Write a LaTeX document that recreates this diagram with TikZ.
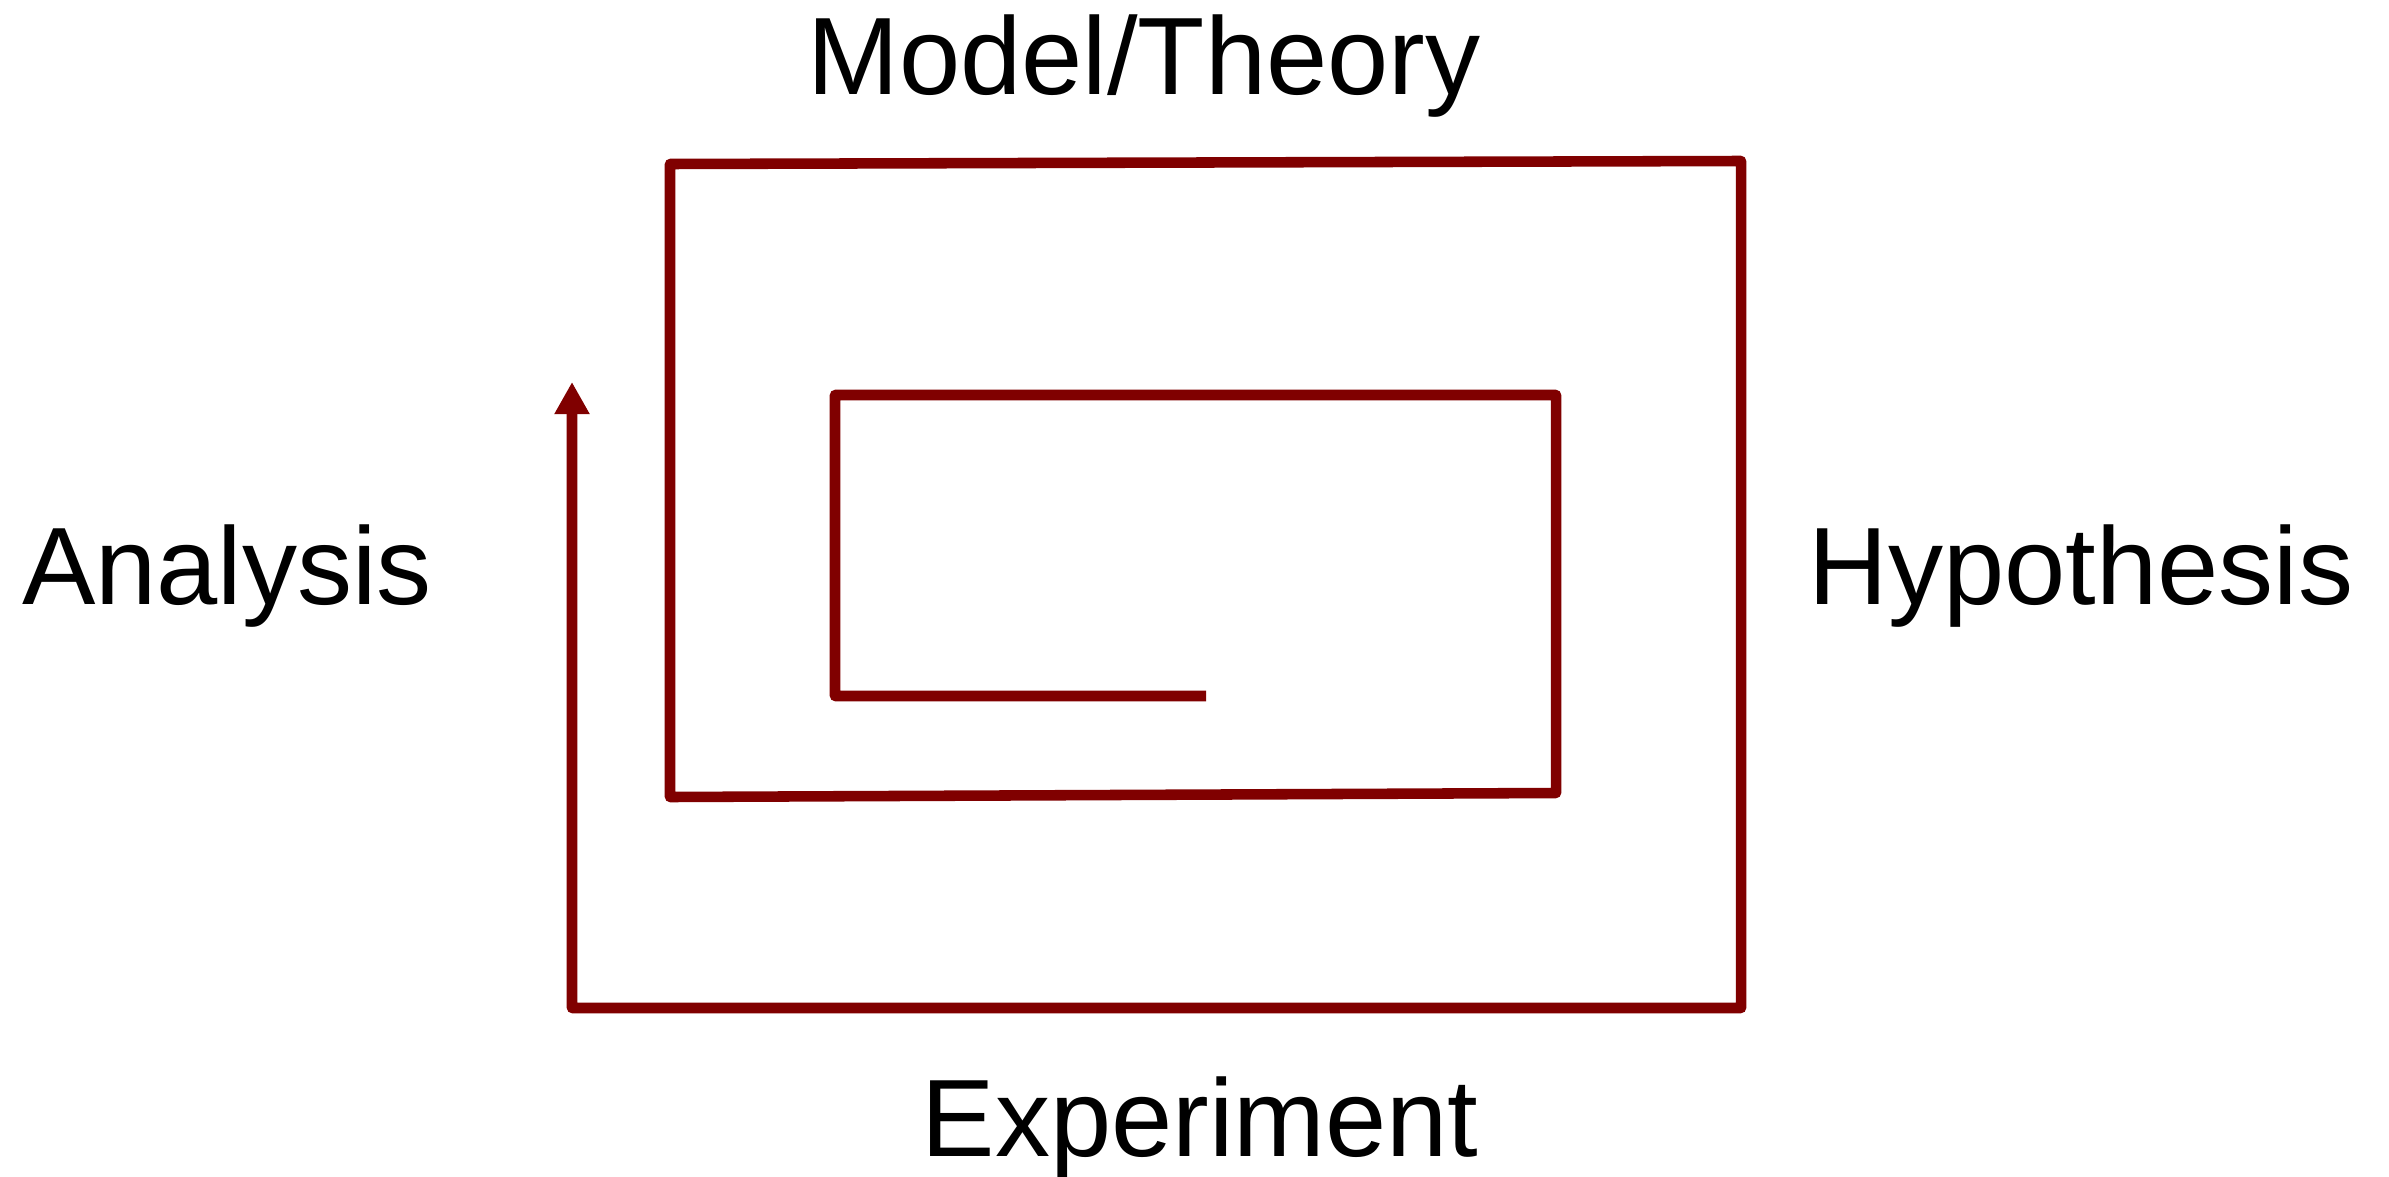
\documentclass[tikz,border=0pt]{standalone}
\usepackage{fontspec}
\setmainfont{Liberation Sans}
\usepackage{tikz}
\usetikzlibrary{arrows.meta}
\usepackage{xcolor}
\definecolor{loopred}{HTML}{800000}

\begin{document}
\begin{tikzpicture}[x=0.01cm, y=-0.01cm,
    stage/.style = {anchor=base, inner sep=0pt, font=\fontsize{31.3}{36}\selectfont},
    spiral/.style = {draw=loopred, line width=3pt, line join=round, -{Triangle[width=0.33cm, length=0.32cm]}}
]
\useasboundingbox (0,0) rectangle (2389,1176);

% Stage labels
\node (theory) [stage, at={(1144, 95)}] {Model/Theory};
\node (hypothesis) [stage, at={(2081, 604)}] {Hypothesis};
\node (experiment) [stage, at={(1200, 1156)}] {Experiment};
\node (analysis) [stage, at={(227, 604)}] {Analysis};

% Spiral corners, from the inside out
\coordinate (start) at (1206, 696);
\coordinate (in_sw) at (835, 696);
\coordinate (in_nw) at (835, 395);
\coordinate (in_ne) at (1556, 395);
\coordinate (in_se) at (1556, 793);
\coordinate (mid_sw) at (670, 797);
\coordinate (mid_nw) at (670, 164);
\coordinate (out_ne) at (1741, 161);
\coordinate (out_se) at (1741, 1008);
\coordinate (out_sw) at (572, 1008);
\coordinate (tip) at (572, 382);

% The spiral
\draw [spiral] (start) -- (in_sw) -- (in_nw) -- (in_ne) -- (in_se) -- (mid_sw) -- (mid_nw)
    -- (out_ne) -- (out_se) -- (out_sw) -- (tip);

\end{tikzpicture}
\end{document}
